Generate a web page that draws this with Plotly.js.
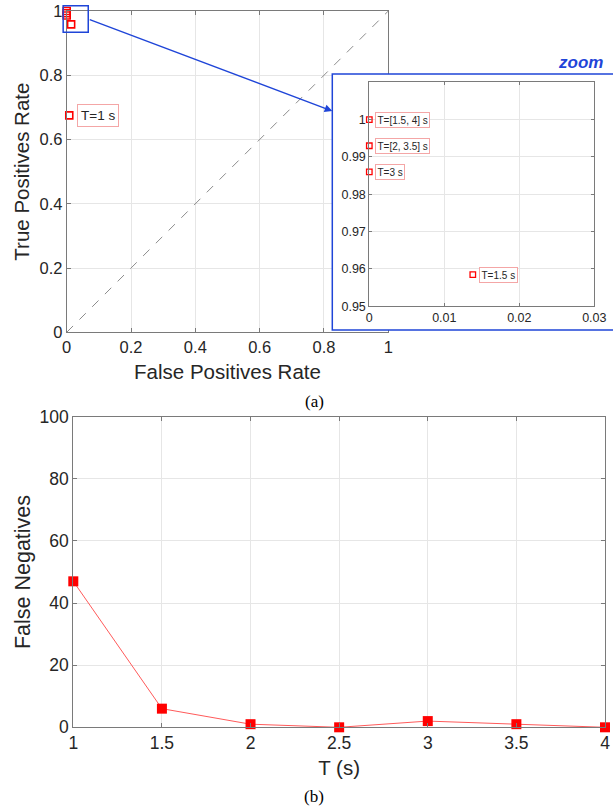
<!DOCTYPE html>
<html>
<head>
<meta charset="utf-8">
<script src="https://cdn.plot.ly/plotly-3.0.1.min.js"></script>
<style>
  html, body { margin: 0; padding: 0; background: #ffffff; }
  #chart { width: 613px; height: 811px; }
</style>
</head>
<body>
<div id="chart"></div>
<script>
// ---------- data ----------
const T = [1, 1.5, 2, 2.5, 3, 3.5, 4];
const falseNegatives = [47, 6, 1, 0, 2, 1, 0];

const rocLabels = ['T=1 s', 'T=1.5 s', 'T=3 s', 'T=[2, 3.5] s', 'T=[1.5, 4] s'];
const rocFPR = [0.008, 0.0138, 0, 0, 0];
const rocTPR = [0.675, 0.9585, 0.986, 0.993, 1];
const mainLabelIdx = [0];
const insetLabelIdx = [1, 2, 3, 4];

const diagX = [0, 1];
const diagY = [0, 1];

const rocTicks = [0, 0.2, 0.4, 0.6, 0.8, 1];
const insetXTicks = [0, 0.01, 0.02, 0.03];
const insetYTicks = [0.95, 0.96, 0.97, 0.98, 0.99, 1];
const fnXTicks = [1, 1.5, 2, 2.5, 3, 3.5, 4];
const fnYTicks = [0, 20, 40, 60, 80, 100];

const zoomBoxX = [-0.011, 0.067];
const zoomBoxY = [0.934, 1.016];
const arrowTailY = 0.975;

// ---------- layout geometry ----------
const W = 613, H = 811;
const SANS = 'Liberation Sans, Arial, Helvetica, sans-serif';
const SERIF = 'Liberation Serif, Times New Roman, serif';
const RED = '#ff0000';
const BLUE = '#1f45d8';
const AXC = '#7a7a7a';
const GRID = '#e6e6e6';
const TXT = '#262626';

const domMainX = [66.7 / W, 388.3 / W];
const domMainY = [1 - 332.3 / H, 1 - 11 / H];
const domCoverX = [332.3 / W, 1];
const domCoverY = [1 - 330 / H, 1 - 74 / H];
const domInsetX = [369.3 / W, 594.3 / W];
const domInsetY = [1 - 306.3 / H, 1 - 82.3 / H];
const domFnX = [73.3 / W, 605 / W];
const domFnY = [1 - 727.3 / H, 1 - 416.7 / H];

const mainRange = [0, 1];
function toPaperX(v) { return domMainX[0] + (v - mainRange[0]) / (mainRange[1] - mainRange[0]) * (domMainX[1] - domMainX[0]); }
function toPaperY(v) { return domMainY[0] + (v - mainRange[0]) / (mainRange[1] - mainRange[0]) * (domMainY[1] - domMainY[0]); }

function axisBase(extra) {
  return Object.assign({
    showline: true, linecolor: AXC, linewidth: 1, mirror: 'ticks',
    ticks: 'inside', ticklen: 4, tickcolor: AXC, tickwidth: 1,
    showgrid: true, gridcolor: GRID, gridwidth: 1,
    zeroline: false, automargin: false, ticklabeloverflow: 'allow',
    tickfont: { family: SANS, size: 16.5, color: TXT }
  }, extra);
}

// ---------- traces ----------
const insetFPR = insetLabelIdx.map(i => rocFPR[i]);
const insetTPR = insetLabelIdx.map(i => rocTPR[i]);

const traces = [
  { x: diagX, y: diagY, xaxis: 'x', yaxis: 'y', mode: 'lines',
    line: { color: '#8c8c8c', width: 1, dash: 'dash' }, hoverinfo: 'skip' },
  { x: rocFPR, y: rocTPR, xaxis: 'x', yaxis: 'y', mode: 'markers', cliponaxis: false,
    marker: { symbol: 'square-open', size: 7, color: RED, line: { color: RED, width: 1.6 } } },
  // dummy cover subplot (white background over the main plot)
  { x: [0], y: [0], xaxis: 'x2', yaxis: 'y2', mode: 'markers', marker: { opacity: 0 }, hoverinfo: 'skip' },
  { x: insetFPR, y: insetTPR, xaxis: 'x3', yaxis: 'y3', mode: 'markers', cliponaxis: false,
    marker: { symbol: 'square-open', size: 5.5, color: RED, line: { color: RED, width: 1.3 } } },
  { x: T, y: falseNegatives, xaxis: 'x4', yaxis: 'y4', mode: 'lines+markers', cliponaxis: false,
    line: { color: '#ff5a5a', width: 1 },
    marker: { symbol: 'square', size: 10, color: RED } }
];

// ---------- annotations ----------
const annotations = [];
mainLabelIdx.forEach(i => annotations.push({
  x: rocFPR[i], y: rocTPR[i], xref: 'x', yref: 'y', text: rocLabels[i], showarrow: false,
  xanchor: 'left', yanchor: 'middle', xshift: 8,
  font: { family: SANS, size: 13.5, color: TXT },
  bgcolor: '#ffffff', bordercolor: '#f4a6a6', borderwidth: 1, borderpad: 3
}));
insetLabelIdx.forEach(i => annotations.push({
  x: rocFPR[i], y: rocTPR[i], xref: 'x3', yref: 'y3', text: rocLabels[i], showarrow: false,
  xanchor: 'left', yanchor: 'middle', xshift: 6,
  font: { family: SANS, size: 10, color: TXT },
  bgcolor: '#ffffff', bordercolor: '#f4a6a6', borderwidth: 1, borderpad: 1.5
}));

// arrow from zoom box to inset frame
const tailX = toPaperX(zoomBoxX[1]), tailY = toPaperY(arrowTailY);
const headX = domCoverX[0], headY = 1 - 111 / H;
annotations.push({
  x: headX, y: headY, xref: 'paper', yref: 'paper', text: '', showarrow: true,
  ax: (tailX - headX) * W, ay: -(tailY - headY) * H, axref: 'pixel', ayref: 'pixel',
  arrowhead: 2, arrowsize: 1.1, arrowwidth: 1.4, arrowcolor: BLUE, standoff: 0, startstandoff: 0
});

annotations.push({
  x: 580 / W, y: 1 - 62 / H, xref: 'paper', yref: 'paper', text: '<b><i>zoom</i></b>',
  showarrow: false, xanchor: 'center', yanchor: 'middle',
  font: { family: SANS, size: 17, color: BLUE }
});
annotations.push({
  x: 314 / W, y: 1 - 401 / H, xref: 'paper', yref: 'paper', text: '(a)',
  showarrow: false, xanchor: 'center', yanchor: 'middle',
  font: { family: SERIF, size: 17, color: '#000000' }
});
annotations.push({
  x: 314 / W, y: 1 - 796 / H, xref: 'paper', yref: 'paper', text: '(b)',
  showarrow: false, xanchor: 'center', yanchor: 'middle',
  font: { family: SERIF, size: 17, color: '#000000' }
});

// ---------- shapes ----------
const shapes = [
  { type: 'rect', xref: 'paper', yref: 'paper', layer: 'above',
    x0: toPaperX(zoomBoxX[0]), x1: toPaperX(zoomBoxX[1]),
    y0: toPaperY(zoomBoxY[0]), y1: toPaperY(zoomBoxY[1]),
    line: { color: BLUE, width: 1.5 }, fillcolor: 'rgba(0,0,0,0)' },
  { type: 'rect', xref: 'paper', yref: 'paper', layer: 'above',
    x0: domCoverX[0], x1: 1.02, y0: domCoverY[0], y1: domCoverY[1],
    line: { color: BLUE, width: 1.5 }, fillcolor: 'rgba(0,0,0,0)' }
];

// ---------- layout ----------
const layout = {
  width: W, height: H, autosize: false,
  margin: { l: 0, r: 0, t: 0, b: 0, pad: 0 },
  paper_bgcolor: '#ffffff', plot_bgcolor: '#ffffff',
  showlegend: false,
  xaxis: axisBase({ domain: domMainX, range: mainRange, tickvals: rocTicks, anchor: 'y',
    title: { text: 'False Positives Rate', standoff: 9, font: { family: SANS, size: 20.5, color: TXT } } }),
  yaxis: axisBase({ domain: domMainY, range: mainRange, tickvals: rocTicks, anchor: 'x',
    title: { text: 'True Positives Rate', standoff: 4, font: { family: SANS, size: 20.5, color: TXT } } }),
  xaxis2: { domain: domCoverX, anchor: 'y2', visible: false, showgrid: false, range: [0, 1], fixedrange: true },
  yaxis2: { domain: domCoverY, anchor: 'x2', visible: false, showgrid: false, range: [0, 1], fixedrange: true },
  xaxis3: axisBase({ domain: domInsetX, range: [0, 0.03], tickvals: insetXTicks, anchor: 'y3',
    ticklen: 3, tickfont: { family: SANS, size: 12.5, color: TXT } }),
  yaxis3: axisBase({ domain: domInsetY, range: [0.95, 1.01], tickvals: insetYTicks, anchor: 'x3',
    ticklen: 3, tickfont: { family: SANS, size: 12.5, color: TXT } }),
  xaxis4: axisBase({ domain: domFnX, range: [1, 4], tickvals: fnXTicks, anchor: 'y4',
    tickfont: { family: SANS, size: 17.5, color: TXT },
    title: { text: 'T (s)', standoff: 8, font: { family: SANS, size: 20.5, color: TXT } } }),
  yaxis4: axisBase({ domain: domFnY, range: [0, 100], tickvals: fnYTicks, anchor: 'x4',
    tickfont: { family: SANS, size: 17.5, color: TXT },
    title: { text: 'False Negatives', standoff: 3, font: { family: SANS, size: 21.5, color: TXT } } }),
  annotations: annotations,
  shapes: shapes
};

Plotly.newPlot('chart', traces, layout, { staticPlot: true, displayModeBar: false });
</script>
</body>
</html>
